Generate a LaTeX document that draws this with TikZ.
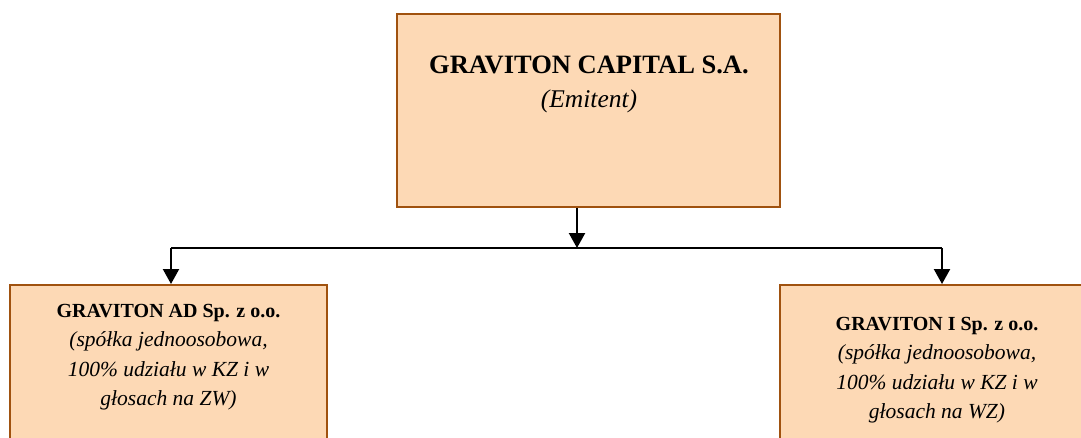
\documentclass[tikz,border=0pt]{standalone}
\usepackage{fontspec}
\setmainfont{Liberation Serif}
\usetikzlibrary{arrows.meta}
\definecolor{boxfill}{HTML}{FDD9B5}
\definecolor{boxline}{HTML}{A0520F}
\begin{document}
\begin{tikzpicture}[x=1pt,y=-1pt,
  orgbox/.style={draw=boxline, fill=boxfill, line width=2pt, rectangle, inner sep=0pt},
  conn/.style={line width=2.2pt, draw=black},
  arr/.style={conn, -{Triangle[width=16pt,length=15pt]}},
  txt/.style={inner sep=0pt, anchor=base, align=center}]
\useasboundingbox (0,0) rectangle (1081,437);
\clip (0,0) rectangle (1081,437);
% boxes
\node[orgbox, minimum width=383pt, minimum height=193pt] (top) at (588.5,110.5) {};
\node[orgbox, minimum width=317pt, minimum height=200pt] (left) at (168.5,385) {};
\node[orgbox, minimum width=314pt, minimum height=200pt] (right) at (937,385) {};
% texts
\node[txt, font=\bfseries\fontsize{26.5}{30}\selectfont] (toptitle) at (589,73) {GRAVITON CAPITAL S.A.};
\node[txt, font=\itshape\fontsize{25.5}{30}\selectfont] (topsub) at (589,107) {(Emitent)};
\node[txt, font=\bfseries\fontsize{20}{24}\selectfont] (ltitle) at (168.5,317) {GRAVITON AD Sp. z o.o.};
\node[txt, font=\itshape\fontsize{21.5}{29.5}\selectfont] (lsub) at (168.5,405.5) {(spółka jednoosobowa,\\100\% udziału w KZ i w\\głosach na ZW)};
\node[txt, font=\bfseries\fontsize{20}{24}\selectfont] (rtitle) at (937,330) {GRAVITON I Sp. z o.o.};
\node[txt, font=\itshape\fontsize{21.5}{29.5}\selectfont] (rsub) at (937,418.5) {(spółka jednoosobowa,\\100\% udziału w KZ i w\\głosach na WZ)};
% connectors
\coordinate (j) at (577,248);
\coordinate (lt) at (171,248);
\coordinate (rt) at (942,248);
\draw[arr] (top.south -| j) -- (j);
\draw[conn] (lt) -- (rt);
\draw[arr] (lt) -- (lt |- left.north);
\draw[arr] (rt) -- (rt |- right.north);
\end{tikzpicture}
\end{document}
